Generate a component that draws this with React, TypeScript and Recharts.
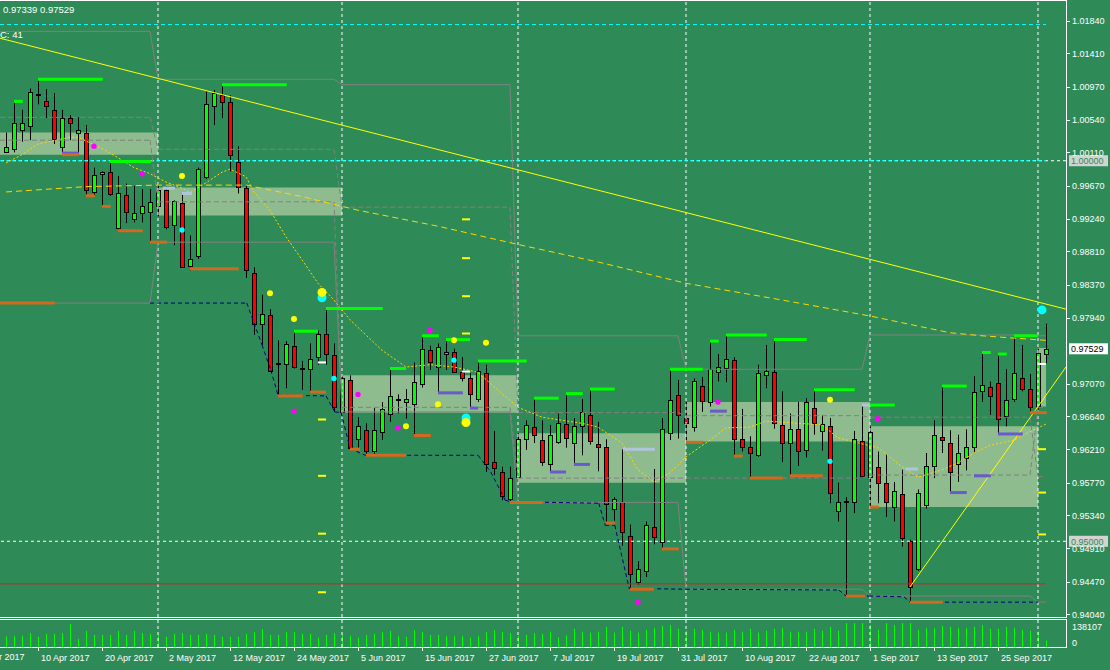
import React from 'react';
import { ComposedChart, Bar, Line, XAxis, YAxis, ReferenceLine, ReferenceArea, ReferenceDot } from 'recharts';

const FONT = '"Liberation Sans", Arial, sans-serif';
const BG = '#2E8B57';
const GRAY = '#808080';

// ---- candles (4 Apr 2017 .. 3 Oct 2017, daily) ----
const opens = [1.0011,1.0016,1.0041,1.0045,1.0086,1.0078,1.0067,1.0018,1.0056,1.0036,
1.0037,0.9959,0.9982,0.9985,0.9912,0.9955,0.9923,0.9931,0.9933,0.9940,
0.9962,0.9915,0.9944,0.9862,0.9875,0.9978,1.0072,1.0087,1.0077,0.9998,
0.9964,0.9852,0.9785,0.9797,0.9733,0.9733,0.9757,0.9727,0.9727,0.9742,
0.9773,0.9745,0.9670,0.9712,0.9634,0.9646,0.9618,0.9644,0.9667,0.9686,
0.9683,0.9681,0.9706,0.9751,0.9729,0.9746,0.9749,0.9722,0.9714,0.9687,
0.9721,0.9604,0.9591,0.9555,0.9584,0.9634,0.9650,0.9633,0.9601,0.9630,
0.9654,0.9629,0.9652,0.9666,0.9628,0.9624,0.9543,0.9552,0.9507,0.9447,
0.9461,0.9519,0.9499,0.9642,0.9692,0.9662,0.9650,0.9704,0.9683,0.9722,
0.9728,0.9738,0.9634,0.9624,0.9614,0.9718,0.9722,0.9653,0.9629,0.9648,
0.9620,0.9675,0.9645,0.9652,0.9540,0.9552,0.9551,0.9632,0.9584,0.9597,
0.9577,0.9545,0.9562,0.9501,0.9463,0.9548,0.9599,0.9637,0.9629,0.9601,
0.9609,0.9624,0.9697,0.9703,0.9708,0.9664,0.9687,0.9715,0.9700,0.9678,
0.9746];
const highs = [1.0037,1.0078,1.0067,1.0095,1.0107,1.0094,1.0089,1.0067,1.0060,1.0057,
1.0047,0.9991,0.9986,1.0000,0.9980,0.9970,0.9967,0.9963,0.9963,0.9970,
0.9966,0.9948,0.9956,0.9902,0.9991,1.0091,1.0093,1.0100,1.0086,1.0019,
0.9968,0.9860,0.9824,0.9805,0.9764,0.9763,0.9776,0.9737,0.9760,0.9777,
0.9807,0.9760,0.9718,0.9718,0.9663,0.9655,0.9675,0.9683,0.9728,0.9693,
0.9700,0.9735,0.9770,0.9757,0.9760,0.9765,0.9753,0.9742,0.9721,0.9737,
0.9732,0.9645,0.9598,0.9598,0.9642,0.9659,0.9689,0.9659,0.9653,0.9668,
0.9694,0.9662,0.9687,0.9701,0.9657,0.9634,0.9558,0.9621,0.9522,0.9474,
0.9526,0.9595,0.9662,0.9727,0.9712,0.9683,0.9714,0.9716,0.9763,0.9746,
0.9771,0.9742,0.9674,0.9638,0.9732,0.9758,0.9766,0.9697,0.9668,0.9683,
0.9688,0.9699,0.9666,0.9662,0.9577,0.9558,0.9645,0.9680,0.9651,0.9618,
0.9614,0.9578,0.9594,0.9502,0.9568,0.9616,0.9659,0.9704,0.9646,0.9640,
0.9647,0.9717,0.9748,0.9710,0.9746,0.9726,0.9770,0.9758,0.9720,0.9753,
0.9786];
const lows = [1.0010,1.0011,1.0025,1.0027,1.0074,1.0056,1.0022,1.0008,1.0027,1.0008,
0.9955,0.9954,0.9940,0.9954,0.9907,0.9918,0.9919,0.9919,0.9892,0.9927,
0.9910,0.9889,0.9860,0.9856,0.9871,0.9976,1.0047,1.0056,0.9986,0.9957,
0.9846,0.9771,0.9758,0.9723,0.9692,0.9701,0.9727,0.9699,0.9697,0.9732,
0.9732,0.9670,0.9669,0.9621,0.9623,0.9613,0.9614,0.9633,0.9657,0.9668,
0.9661,0.9638,0.9702,0.9725,0.9694,0.9725,0.9721,0.9710,0.9675,0.9683,
0.9591,0.9587,0.9554,0.9551,0.9583,0.9620,0.9629,0.9599,0.9591,0.9628,
0.9623,0.9601,0.9613,0.9627,0.9592,0.9524,0.9527,0.9494,0.9438,0.9443,
0.9453,0.9496,0.9490,0.9633,0.9635,0.9631,0.9644,0.9670,0.9677,0.9710,
0.9709,0.9611,0.9618,0.9583,0.9611,0.9701,0.9648,0.9604,0.9585,0.9599,
0.9610,0.9640,0.9619,0.9550,0.9526,0.9428,0.9537,0.9583,0.9545,0.9550,
0.9532,0.9526,0.9493,0.9421,0.9461,0.9543,0.9583,0.9616,0.9564,0.9578,
0.9593,0.9616,0.9683,0.9666,0.9640,0.9651,0.9683,0.9697,0.9668,0.9672,
0.9734];
const closes = [1.0018,1.0049,1.0049,1.0090,1.0086,1.0072,1.0029,1.0056,1.0049,1.0041,
0.9961,0.9981,0.9985,0.9956,0.9957,0.9933,0.9931,0.9941,0.9946,0.9962,
0.9913,0.9947,0.9861,0.9871,0.9989,1.0074,1.0089,1.0077,1.0008,0.9965,
0.9857,0.9785,0.9798,0.9724,0.9733,0.9759,0.9729,0.9727,0.9740,0.9773,
0.9746,0.9676,0.9714,0.9622,0.9651,0.9618,0.9646,0.9674,0.9691,0.9686,
0.9687,0.9709,0.9752,0.9736,0.9755,0.9749,0.9722,0.9715,0.9693,0.9724,
0.9602,0.9596,0.9559,0.9583,0.9635,0.9653,0.9639,0.9604,0.9639,0.9655,
0.9636,0.9652,0.9670,0.9632,0.9624,0.9549,0.9555,0.9512,0.9457,0.9464,
0.9522,0.9506,0.9647,0.9686,0.9666,0.9655,0.9711,0.9684,0.9727,0.9729,
0.9739,0.9634,0.9624,0.9616,0.9721,0.9724,0.9656,0.9629,0.9648,0.9618,
0.9683,0.9655,0.9654,0.9563,0.9552,0.9552,0.9635,0.9586,0.9643,0.9577,
0.9551,0.9566,0.9504,0.9440,0.9563,0.9599,0.9640,0.9633,0.9591,0.9616,
0.9624,0.9696,0.9705,0.9691,0.9661,0.9686,0.9721,0.9700,0.9676,0.9748,
0.97529];
const volumes = [72000,77000,77000,96000,70000,90000,90000,96000,156000,55000,
110000,83000,83000,83000,110000,83000,110000,96000,90000,85000,
70000,90000,96000,83000,83000,90000,83000,70000,70000,70000,
90000,103000,123000,83000,83000,103000,103000,90000,90000,64000,
83000,96000,83000,77000,64000,83000,90000,103000,110000,77000,
70000,116000,103000,83000,83000,77000,77000,77000,64000,77000,
103000,116000,103000,96000,77000,83000,96000,90000,105000,66000,
79000,125000,105000,99000,105000,138000,99000,138000,112000,99000,
118000,132000,145000,151000,125000,110000,125000,118000,105000,99000,
99000,118000,105000,125000,99000,112000,125000,132000,105000,105000,
105000,125000,112000,138000,112000,164000,164000,164000,151000,118000,
164000,151000,164000,164000,118000,132000,132000,145000,138000,132000,
132000,138000,151000,125000,125000,138000,132000,118000,112000,105000,
46000];

// ---- moving averages (bar index, value) ----
const maFast: [number, number][] = [[0,0.9997],[2,1.0008],[4,1.0022],[8,1.0031],[9,1.0031],[12,1.0016],[14,1.0004],[16,0.9991],[18,0.9983],[20,0.9972],[22,0.9964],[23,0.9958],[25,0.9971],[27,0.9985],[28,0.9989],[30,0.9979],[31,0.9959],[33,0.9935],[35,0.9900],[37,0.9870],[39,0.9839],[41,0.9817],[43,0.9791],[47,0.9751],[50,0.9729],[53,0.9732],[56,0.9729],[59,0.9722],[61,0.9703],[64,0.9676],[67,0.9663],[72,0.9655],[74,0.9650],[77,0.9629],[79,0.9594],[81,0.9578],[83,0.9590],[85,0.9611],[88,0.9633],[90,0.9649],[93,0.9650],[95,0.9658],[99,0.9655],[102,0.9653],[104,0.9636],[107,0.9628],[109,0.9623],[112,0.9598],[114,0.9584],[117,0.9594],[119,0.9603],[121,0.9616],[123,0.9626],[126,0.9633],[128,0.9644],[130,0.9654]];
const maSlow: [number, number][] = [[0,0.9959],[10,0.9966],[19,0.9968],[30,0.9968],[37,0.9953],[44,0.9935],[54,0.9914],[64,0.9890],[74,0.9867],[85,0.9839],[97,0.9817],[108,0.9796],[118,0.9774],[122,0.9770],[130,0.9764]];

// ---- monthly levels ----
const monthStart = [0, 19, 42, 64, 85, 108, 129];
const monthEnd = [18, 41, 63, 84, 107, 128, 130];
const prevHigh = [1.0170, 1.0107, 1.0100, 0.9770, 0.9726, 0.9771, 0.9770];
const prevLow = [0.9813, 0.9893, 0.9670, 0.9551, 0.9437, 0.9428, 0.9420];
const prevOpen = [1.0057, 1.0015, 0.9939, 0.9669, 0.9665, 0.9663, 0.9585];
const prevClose = [1.0027, 0.9946, 0.9676, 0.9583, 0.9583, 0.9587, 0.9676];
const zoneTop = [1.0037, 0.9965, 0.9718, 0.9642, 0.9683, 0.9651, 0.9754];
const zoneBottom = [1.0008, 0.9928, 0.9669, 0.9577, 0.9631, 0.9545, 0.9677];
const monthGrid = [19, 42, 64, 85, 108, 129];

// ---- marker segments [startIndex, endIndex, price] ----
const greenSegs: [number, number, number][] = [[4,12.1,1.0107],[1,2.1,1.0078],[27,35.1,1.0100],[13,18.1,0.9999],[40,47.1,0.9806],[36,39,0.9776],[48,50,0.9727],[52,54.1,0.9770],[55,58,0.9765],[59,65.1,0.9737],[66,69.1,0.9688],[70,72.1,0.9694],[73,76.1,0.9700],[83,87.1,0.9726],[88,89.1,0.9763],[90,95.1,0.9771],[96,100.1,0.9765],[101,106.1,0.9699],[108,111.1,0.9679],[117,120.1,0.9704],[122,123.1,0.9748],[124,125.1,0.9746],[126,129,0.9770]];
const purpleSegs: [number, number, number][] = [[7,9.1,1.0010],[54,57.1,0.9695],[58,59,0.9675],[68,70,0.9591],[71,73,0.9601],[88,90.1,0.9671],[118,120.1,0.9564],[121,123.1,0.9586],[124,127.1,0.9641]];
const orangeSegs: [number, number, number][] = [[7,9.1,1.0008],[10,11.1,0.9954],[12,13.1,0.9940],[14,17.1,0.9908],[18,20.1,0.9893],[23,29.1,0.9858],[-0.75,6.1,0.9813],[34,37.1,0.9691],[38,40,0.9696],[43,44.25,0.9621],[45,50,0.9613],[51,53.1,0.9639],[63,67.1,0.9551],[75,76.1,0.9524],[78,81,0.9437],[82,84.1,0.9490],[85,87.1,0.9630],[91,92.1,0.9612],[93,97.1,0.9583],[98,102.1,0.9586],[105,107.4,0.9428],[108,109.1,0.9545],[113,117.1,0.9420],[128,130.1,0.9669]];
const lightBlueSegs: [number, number, number][] = [[19.6,21.1,0.9964],[22,23.25,0.9957],[77.1,81.1,0.9621],[107,108,0.9679],[112.4,114,0.9595]];
const whiteSegs: [number, number, number][] = [[39,40,0.9735],[57,58,0.9723],[129,130,0.9733]];
const yellowTicks: [number, number, number][] = [[39,40,0.9660],[39,40,0.9586],[39,40,0.9510],[39,40,0.9433],[57,58,0.9923],[57,58,0.9872],[57,58,0.9822],[57,58,0.9773],[129,130,0.9621],[129,130,0.9564],[129,130,0.9509]];
const navyPts: [number, number][] = [[18,0.9813],[30.1,0.9813],[32,0.9758],[33.1,0.9725],[34,0.9692],[40,0.9691],[41.1,0.9670],[41.9,0.9669],[43,0.9622],[44.9,0.9613],[59,0.9613],[60.6,0.9591],[62.4,0.9554],[63,0.9552],[74.1,0.9550],[74.9,0.9521],[76.1,0.9521],[77.9,0.9438],[85,0.9437],[104.1,0.9436],[105,0.9428],[107.9,0.9428],[112.25,0.9427],[113,0.9420],[129,0.9420]];

// ---- dots [index, price] ----
const magentaDots: [number, number][] = [[11,1.0019],[17,0.9983],[36,0.9671],[44,0.9693],[49,0.9649],[53,0.9777],[79,0.9420],[89,0.9683],[109,0.9661]];
const yellowDots: [number, number][] = [[22,0.9980],[33,0.9826],[36,0.9792],[50,0.9651],[54,0.9680],[56,0.9764],[60,0.9761],[103,0.9686]];
const cyanDots: [number, number][] = [[22,0.9909],[41,0.9714],[56,0.9738],[103,0.9605]];
const bigCyan: [number, number][] = [[39.5,0.9820],[57.5,0.9662],[129.5,0.9804]];
const bigYellow: [number, number][] = [[39.5,0.9827],[57.5,0.9656]];

// ---- lines / levels ----
const trendMain: [number, number][] = [[-0.75, 1.0161], [132.5, 0.9805]];
const trendUp: [number, number][] = [[113, 0.9440], [132.5, 0.9729]];
const cyanLevel = 1.0179;
const parityLevel = 1.0;
const roundLevel = 0.95;
const redLevel = 0.9444;
const lastPrice = 0.97529;

// ---- axes ----
const priceTicks = [1.0184, 1.0141, 1.0097, 1.0054, 1.0011, 0.9967, 0.9924, 0.9881, 0.9837, 0.9794, 0.9707, 0.9664, 0.9621, 0.9577, 0.9534, 0.9491, 0.9447, 0.9404];
const dateTicks = [4, 12, 20, 28, 36, 44, 52, 60, 68, 76, 84, 92, 100, 108, 116, 124];
const dateLabels = ['10 Apr 2017', '20 Apr 2017', '2 May 2017', '12 May 2017', '24 May 2017', '5 Jun 2017', '15 Jun 2017', '27 Jun 2017', '7 Jul 2017', '19 Jul 2017', '31 Jul 2017', '10 Aug 2017', '22 Aug 2017', '1 Sep 2017', '13 Sep 2017', '25 Sep 2017'];
const volTicks = [0, 138107];

const X_DOMAIN: [number, number] = [-0.75, 132.5];
const Y_DOMAIN: [number, number] = [0.94005, 1.02099];
const VOL_DOMAIN: [number, number] = [0, 185000];

const rows: any[] = opens.map((o, i) => ({
  idx: i, open: o, high: highs[i], low: lows[i], close: closes[i], vol: volumes[i], fast: null, slow: null,
}));
maFast.forEach(([i, v]) => { rows[i].fast = v; });
maSlow.forEach(([i, v]) => { rows[i].slow = v; });

const Candle = (props: any) => {
  const { x, y, width, height, payload } = props;
  if (x == null || y == null || !payload) return null;
  const cx = Math.round(x + width / 2);
  const { open, close, high, low } = payload;
  const k = high > low ? height / (high - low) : 0;
  const yO = y + (high - open) * k;
  const yC = y + (high - close) * k;
  const top = Math.round(Math.min(yO, yC));
  const bot = Math.round(Math.max(yO, yC));
  const fill = close > open ? '#00FF00' : '#FF0000';
  return (
    <g>
      <line x1={cx + 0.5} x2={cx + 0.5} y1={y} y2={y + height} stroke="#000" strokeWidth={1} />
      {open === close ? (
        <line x1={cx - 2} x2={cx + 3} y1={Math.round(yO)} y2={Math.round(yO)} stroke="#000" strokeWidth={2} />
      ) : (
        <rect x={cx - 1.5} y={top + 0.5} width={4} height={Math.max(bot - top, 1)} fill={fill} stroke="#000" strokeWidth={1} />
      )}
    </g>
  );
};

const VolBar = (props: any) => {
  const { x, y, width, height } = props;
  if (x == null || y == null) return null;
  const cx = Math.round(x + width / 2);
  return <rect x={cx} y={y} width={1} height={Math.max(height, 0)} fill="#00FF00" />;
};

const PriceTick = (props: any) => {
  const { y, payload } = props;
  const yy = Math.round(y) + 0.5;
  return (
    <g>
      <line x1={1066} x2={1070} y1={yy} y2={yy} stroke="#fff" />
      <text x={1072} y={y + 3.5} fill="#fff" fontSize={9} fontFamily={FONT}>{Number(payload.value).toFixed(5)}</text>
    </g>
  );
};

const VolTick = (props: any) => {
  const { y, payload } = props;
  const v = Number(payload.value);
  return (
    <text x={1072} y={v === 0 ? y - 1.5 : y + 3.5} fill="#fff" fontSize={9} fontFamily={FONT}>{String(v)}</text>
  );
};

const DateTick = (props: any) => {
  const { x, payload } = props;
  const i = dateTicks.indexOf(Number(payload.value));
  const cx = Math.round(x) + 0.5;
  return (
    <g>
      <line x1={cx} x2={cx} y1={28} y2={32} stroke="#fff" />
      <text x={x + 3} y={42} fill="#fff" fontSize={9} fontFamily={FONT}>{dateLabels[i]}</text>
    </g>
  );
};

const boxLabel = (text: string, bg: string, fg: string) => (props: any) => {
  const vb = props && props.viewBox ? props.viewBox : null;
  if (!vb || vb.y == null) return null;
  const y = vb.y;
  return (
    <g>
      <rect x={1069} y={y - 5.5} width={39} height={11} fill={bg} />
      <text x={1071} y={y + 3.5} fill={fg} fontSize={9} fontFamily={FONT}>{text}</text>
    </g>
  );
};

const seg = (key: string, a: [number, number], b: [number, number], stroke: string, w = 1, dash?: string) => (
  <ReferenceLine key={key} segment={[{ x: a[0], y: a[1] }, { x: b[0], y: b[1] }]} stroke={stroke} strokeWidth={w} strokeDasharray={dash} ifOverflow="visible" />
);

const monthLines = (levels: number[], dash: string | undefined, k: string) => {
  const out: any[] = [];
  levels.forEach((v, m) => {
    const sx = m === 0 ? X_DOMAIN[0] : monthStart[m];
    out.push(seg(`${k}h${m}`, [sx, v], [monthEnd[m], v], GRAY, 1, dash));
    if (m > 0) out.push(seg(`${k}c${m}`, [monthEnd[m - 1], levels[m - 1]], [monthStart[m], v], GRAY, 1, dash));
  });
  return out;
};

export default function App() {
  return (
    <div style={{ position: 'fixed', left: 0, top: 0, width: 1110, height: 670, background: BG, overflow: 'hidden' }}>
      <div style={{ position: 'absolute', left: 0, top: 0 }}>
        <ComposedChart width={1110} height={618} data={rows} margin={{ top: 1, right: 0, bottom: 1, left: 0 }}>
          <XAxis dataKey="idx" type="number" domain={X_DOMAIN} hide allowDataOverflow />
          <YAxis orientation="right" type="number" domain={Y_DOMAIN} ticks={priceTicks} width={44} axisLine={false} tickLine={false} tick={<PriceTick />} interval={0} allowDataOverflow />

          {zoneTop.map((t, m) => (
            <ReferenceArea key={`z${m}`} x1={m === 0 ? X_DOMAIN[0] : monthStart[m]} x2={m < 6 ? monthStart[m + 1] : 130} y1={zoneBottom[m]} y2={t} fill="#8FBC8F" fillOpacity={1} stroke="none" ifOverflow="visible" />
          ))}

          {monthGrid.map((g) => (
            <ReferenceLine key={`vg${g}`} x={g} stroke="#fff" strokeDasharray="3 3" ifOverflow="visible" />
          ))}
          <ReferenceLine y={parityLevel} stroke="#fff" strokeDasharray="3 3" label={boxLabel('1.00000', '#D3D3D3', BG)} />
          {seg('cy1', [X_DOMAIN[0], parityLevel], [130, parityLevel], '#00FFFF', 1, '3 3')}
          <ReferenceLine y={roundLevel} stroke="#fff" strokeDasharray="3 3" label={boxLabel('0.95000', '#D3D3D3', BG)} />
          {seg('cyT', [X_DOMAIN[0], cyanLevel], [130, cyanLevel], '#00FFFF', 1, '4 3')}
          {seg('red', [X_DOMAIN[0], redLevel], [130, redLevel], '#C82828', 1)}

          {monthLines(prevHigh, undefined, 'ph')}
          {monthLines(prevLow, undefined, 'pl')}
          {monthLines(prevOpen, '5 3', 'po')}
          {monthLines(prevClose, '5 3', 'pc')}

          {navyPts.slice(1).map((p, i) => seg(`nv${i}`, navyPts[i], p, '#000080', 1, '4 3'))}

          <Bar dataKey={(d: any) => [d.low, d.high]} barSize={8} shape={<Candle />} isAnimationActive={false} />

          <Line dataKey="slow" stroke="#FFD700" strokeWidth={1} strokeDasharray="6 4" dot={false} connectNulls isAnimationActive={false} />
          <Line dataKey="fast" stroke="#FFD700" strokeWidth={1} strokeDasharray="2 2" dot={false} connectNulls isAnimationActive={false} />

          {seg('tm', trendMain[0], trendMain[1], '#FFFF00', 1)}
          {seg('tu', trendUp[0], trendUp[1], '#FFFF00', 1)}

          {purpleSegs.map(([a, b, v], i) => seg(`pu${i}`, [a, v], [b, v], '#6A5ACD', 3))}
          {orangeSegs.map(([a, b, v], i) => seg(`or${i}`, [a, v], [b, v], '#D2691E', 3))}
          {lightBlueSegs.map(([a, b, v], i) => seg(`lb${i}`, [a, v], [b, v], '#B0C4DE', 3))}
          {greenSegs.map(([a, b, v], i) => seg(`gr${i}`, [a, v], [b, v], '#00FF00', 3))}
          {whiteSegs.map(([a, b, v], i) => seg(`wh${i}`, [a, v], [b, v], '#FFFFFF', 2))}
          {yellowTicks.map(([a, b, v], i) => seg(`yt${i}`, [a, v], [b, v], '#FFFF00', 2))}

          {magentaDots.map(([i, v], k) => (
            <ReferenceDot key={`md${k}`} x={i} y={v} r={2.7} fill="#FF00FF" stroke="none" ifOverflow="visible" />
          ))}
          {yellowDots.map(([i, v], k) => (
            <ReferenceDot key={`yd${k}`} x={i} y={v} r={3} fill="#FFFF00" stroke="none" ifOverflow="visible" />
          ))}
          {cyanDots.map(([i, v], k) => (
            <ReferenceDot key={`cd${k}`} x={i} y={v} r={2.7} fill="#00FFFF" stroke="none" ifOverflow="visible" />
          ))}
          {bigCyan.map(([i, v], k) => (
            <ReferenceDot key={`bc${k}`} x={i} y={v} r={4.5} fill="#00FFFF" stroke="none" ifOverflow="visible" />
          ))}
          {bigYellow.map(([i, v], k) => (
            <ReferenceDot key={`by${k}`} x={i} y={v} r={4.5} fill="#FFFF00" stroke="none" ifOverflow="visible" />
          ))}

          <ReferenceLine y={lastPrice} stroke="none" label={boxLabel('0.97529', '#FFFFFF', '#000000')} />
        </ComposedChart>
      </div>

      <div style={{ position: 'absolute', left: 0, top: 619 }}>
        <ComposedChart width={1110} height={51} data={rows} margin={{ top: 1, right: 0, bottom: 0, left: 0 }}>
          <XAxis dataKey="idx" type="number" domain={X_DOMAIN} ticks={dateTicks} interval={0} height={23} axisLine={false} tickLine={false} tick={<DateTick />} allowDataOverflow />
          <YAxis orientation="right" type="number" domain={VOL_DOMAIN} ticks={volTicks} width={44} axisLine={false} tickLine={false} tick={<VolTick />} interval={0} allowDataOverflow />
          {monthGrid.map((g) => (
            <ReferenceLine key={`vvg${g}`} x={g} stroke="#fff" strokeDasharray="3 3" ifOverflow="visible" />
          ))}
          <Bar dataKey="vol" barSize={2} shape={<VolBar />} isAnimationActive={false} />
        </ComposedChart>
      </div>

      <div style={{ position: 'absolute', left: -2, top: 0, width: 1069, height: 618, border: '1px solid #fff', boxSizing: 'border-box', pointerEvents: 'none' }} />
      <div style={{ position: 'absolute', left: -2, top: 619, width: 1069, height: 29, border: '1px solid #fff', boxSizing: 'border-box', pointerEvents: 'none' }} />

      <div style={{ position: 'absolute', left: -26, top: 652, color: '#fff', fontFamily: FONT, fontSize: 9, whiteSpace: 'nowrap' }}>29 Mar 2017</div>
      <div style={{ position: 'absolute', left: 3, top: 4, color: '#fff', fontFamily: FONT, fontSize: 9.5, whiteSpace: 'nowrap' }}>0.97339 0.97529</div>
      <div style={{ position: 'absolute', left: 0, top: 29, color: '#fff', fontFamily: FONT, fontSize: 9.5, whiteSpace: 'nowrap' }}>C: 41</div>
    </div>
  );
}
